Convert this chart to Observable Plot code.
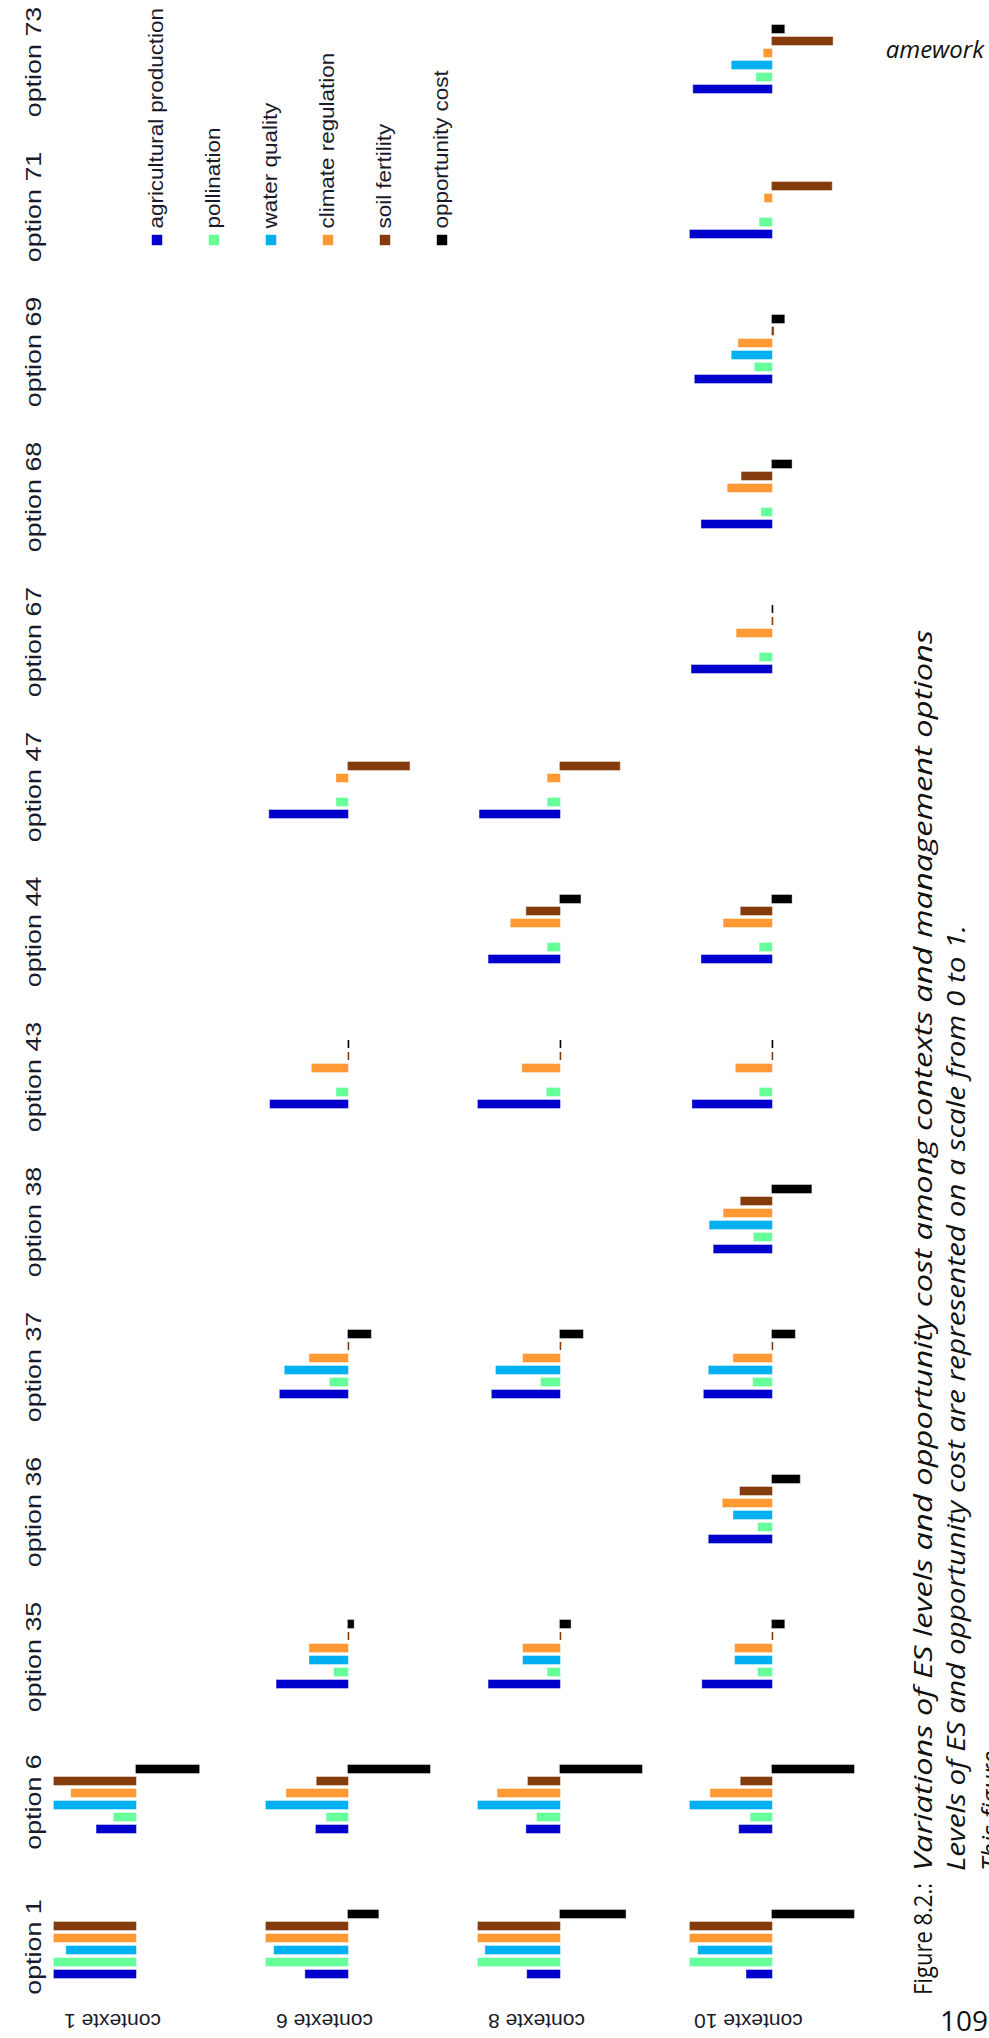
<!DOCTYPE html>
<html>
<head>
<meta charset="utf-8">
<script src="https://cdn.jsdelivr.net/npm/d3@7"></script>
<script src="https://cdn.jsdelivr.net/npm/@observablehq/plot@0.6"></script>
<style>
  html, body { margin: 0; padding: 0; background: #fff; }
  #page { position: relative; width: 989px; height: 2038px; overflow: hidden; background: #fff; }
  #page > svg { position: absolute; left: 0; top: 0; overflow: visible; }
</style>
</head>
<body>
<div id="page"></div>
<script>
// ---------- data ----------
const contexts = ["contexte 1", "contexte 6", "contexte 8", "contexte 10"];
const options = ["option 73", "option 71", "option 69", "option 68", "option 67", "option 47",
  "option 44", "option 43", "option 38", "option 37", "option 36", "option 35", "option 6", "option 1"];
const services = ["agricultural production", "pollination", "water quality",
  "climate regulation", "soil fertility", "opportunity cost"];
const serviceColors = ["#0000cc", "#66ff99", "#00b0f0", "#ff9933", "#843c0c", "#000000"];

// columns: option, agricultural production, pollination, water quality, climate regulation, soil fertility, opportunity cost
// (ES on a 0-1 scale, negative = decrease; null = no bar)
const contexte1Values = [
  ["option 1", 1.00, 1.00, 0.85, 1.00, 1.00, null],
  ["option 6", 0.48, 0.27, 1.00, 0.79, 1.00, 0.77]
];
const contexte6Values = [
  ["option 1", 0.52, 1.00, 0.90, 1.00, 1.00, 0.37],
  ["option 6", 0.39, 0.26, 1.00, 0.75, 0.38, 1.00],
  ["option 35", 0.87, 0.17, 0.47, 0.47, 0.00, 0.07],
  ["option 37", 0.83, 0.22, 0.77, 0.47, 0.00, 0.28],
  ["option 43", 0.95, 0.14, null, 0.44, 0.00, 0.00],
  ["option 47", 0.96, 0.14, null, 0.14, -0.75, null]
];
const contexte8Values = [
  ["option 1", 0.40, 1.00, 0.91, 1.00, 1.00, 0.80],
  ["option 6", 0.41, 0.28, 1.00, 0.76, 0.39, 1.00],
  ["option 35", 0.87, 0.15, 0.45, 0.45, 0.00, 0.13],
  ["option 37", 0.83, 0.23, 0.78, 0.45, 0.00, 0.28],
  ["option 43", 1.00, 0.16, null, 0.46, 0.00, 0.00],
  ["option 44", 0.87, 0.15, null, 0.60, 0.41, 0.25],
  ["option 47", 0.98, 0.15, null, 0.15, -0.73, null]
];
const contexte10Values = [
  ["option 1", 0.31, 1.00, 0.90, 1.00, 1.00, 1.00],
  ["option 6", 0.40, 0.26, 1.00, 0.75, 0.38, 1.00],
  ["option 35", 0.85, 0.17, 0.45, 0.45, 0.00, 0.15],
  ["option 36", 0.77, 0.17, 0.47, 0.60, 0.39, 0.34],
  ["option 37", 0.83, 0.23, 0.77, 0.47, 0.00, 0.28],
  ["option 38", 0.71, 0.22, 0.76, 0.59, 0.38, 0.48],
  ["option 43", 0.97, 0.15, null, 0.44, 0.00, 0.00],
  ["option 44", 0.86, 0.15, null, 0.59, 0.38, 0.24],
  ["option 67", 0.98, 0.15, null, 0.43, 0.00, 0.00],
  ["option 68", 0.86, 0.13, null, 0.54, 0.37, 0.24],
  ["option 69", 0.94, 0.21, 0.49, 0.41, -0.02, 0.15],
  ["option 71", 1.00, 0.15, null, 0.09, -0.73, null],
  ["option 73", 0.96, 0.19, 0.49, 0.10, -0.74, 0.15]
];

// caption / page texts
const headerText = "amework";
const captionLabel = "Figure 8.2.:";
const captionTitle = "Variations of ES levels and opportunity cost among contexts and management options";
const captionLine2 = "Levels of ES and opportunity cost are represented on a scale from 0 to 1.";
const captionLine3 = "This figure";
const pageNumber = "109";

// ---------- build table ----------
const tables = [contexte1Values, contexte6Values, contexte8Values, contexte10Values];
const rows = [];
tables.forEach((table, ci) => {
  table.forEach(([option, ...vals]) => {
    vals.forEach((v, si) => {
      if (v == null) return;
      const service = services[si];
      // ES drawn to the left (decreasing x), opportunity cost to the right
      const x = service === "opportunity cost" ? v : -v;
      rows.push({context: contexts[ci], option, service, value: v, x});
    });
  });
});
const zeroRows = rows.filter(d => d.value === 0);
const barRows = rows.filter(d => d.value !== 0);

const page = document.getElementById("page");

// ---------- main chart ----------
const chart = Plot.plot({
  width: 989,
  height: 2038,
  marginLeft: 40,
  marginRight: 101,
  marginTop: 0,
  marginBottom: 8,
  style: {background: "transparent", fontFamily: "Liberation Sans, Arial, sans-serif"},
  fx: {domain: contexts, padding: 0, axis: null},
  fy: {domain: options, padding: 0, axis: null},
  x: {domain: [-1.17, 1.415], axis: null},
  y: {domain: services.slice().reverse(), padding: 0.3, insetTop: 18, insetBottom: 45.4, axis: null},
  color: {domain: services, range: serviceColors},
  marks: [
    Plot.barX(barRows, {
      fx: "context", fy: "option", y: "service",
      x1: 0, x2: "x",
      fill: "service", stroke: "service", strokeWidth: 1, strokeOpacity: 0.6
    }),
    Plot.tickX(zeroRows, {
      fx: "context", fy: "option", y: "service", x: "x",
      stroke: "service", strokeWidth: 1.6
    }),
    Plot.text(options, {
      fx: () => "contexte 1", fy: d => d, text: d => d,
      frameAnchor: "left", textAnchor: "middle", lineAnchor: "middle",
      dx: -6, dy: -11, rotate: -90, fontSize: 21.5, fill: "#1a1a2a"
    }),
    Plot.text(contexts, {
      fx: d => d, fy: () => "option 1",
      x: () => 0, y: () => "agricultural production",
      text: d => d, rotate: 180, textAnchor: "middle", lineAnchor: "middle",
      dx: -24, dy: 46.5, fontSize: 21, fill: "#1a1a2a"
    })
  ]
});
page.appendChild(chart);

// ---------- legend ----------
const legend = Plot.plot({
  width: 989,
  height: 260,
  margin: 0,
  style: {background: "transparent", fontFamily: "Liberation Sans, Arial, sans-serif"},
  x: {type: "band", domain: services, range: [127.5, 469.5], padding: 0, axis: null},
  y: {domain: [0, 260], range: [0, 260], axis: null},
  color: {domain: services, range: serviceColors},
  marks: [
    Plot.dot(services, {x: d => d, y: () => 239.5, symbol: "square", r: 5.9, fill: d => d, stroke: "none"}),
    Plot.text(services, {
      x: d => d, y: () => 228, text: d => d, rotate: -90,
      textAnchor: "start", lineAnchor: "middle", fontSize: 19.5, fill: "#1a1a2a"
    })
  ]
});
page.appendChild(legend);

// stretch rotated labels along their length, as in the reference
function stretch(svg, k) {
  svg.querySelectorAll("text").forEach(t => {
    const tr = t.getAttribute("transform") || "";
    if (tr.includes("rotate(-90)")) t.setAttribute("transform", tr + ` scale(${k},1)`);
  });
}
stretch(chart, 1.25);
stretch(legend, 1.15);

// ---------- caption and page furniture ----------
const cap = d3.create("svg").attr("width", 989).attr("height", 2038);
function rtext(x, y, str, {size = 26, italic = false, len = null} = {}) {
  const t = cap.append("text")
    .attr("transform", `translate(${x},${y}) rotate(-90)`)
    .attr("font-family", "Open Sans, sans-serif")
    .attr("font-size", size)
    .attr("font-style", italic ? "italic" : "normal")
    .attr("fill", "#111")
    .text(str);
  if (len) t.attr("textLength", len).attr("lengthAdjust", "spacingAndGlyphs");
  return t;
}
rtext(932, 1995, captionLabel, {len: 112});
rtext(932, 1871, captionTitle, {italic: true, len: 1241});
rtext(965, 1871, captionLine2, {italic: true, len: 946});
rtext(1000, 1871, captionLine3, {italic: true, len: 120});
cap.append("text")
  .attr("x", 984).attr("y", 58)
  .attr("text-anchor", "end")
  .attr("font-family", "Open Sans, sans-serif")
  .attr("font-style", "italic")
  .attr("font-size", 24)
  .attr("fill", "#111")
  .text(headerText);
cap.append("text")
  .attr("x", 964).attr("y", 2031)
  .attr("text-anchor", "middle")
  .attr("font-family", "Open Sans, sans-serif")
  .attr("font-size", 28)
  .attr("fill", "#111")
  .text(pageNumber);
page.appendChild(cap.node());
</script>
</body>
</html>
